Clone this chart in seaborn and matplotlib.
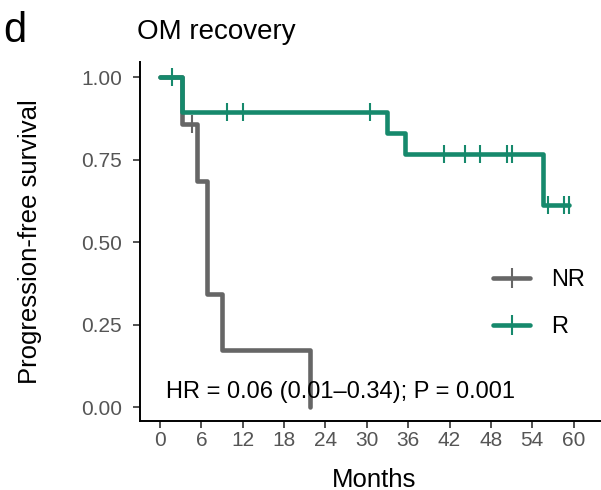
import numpy as np
import pandas as pd
import matplotlib
matplotlib.use("Agg")
import matplotlib.pyplot as plt
from matplotlib.lines import Line2D
import seaborn as sns

# ---- data ----
groups = ["NR", "R"]
nr_time = [3.2, 4.7, 5.4, 6.8, 6.8, 9.0, 21.8]
nr_event = [1, 0, 1, 1, 1, 1, 1]
r_time = [1.7, 3.2, 3.2, 9.7, 12.1, 30.5, 33.0, 35.5, 41.2, 44.2, 44.2,
          46.4, 46.4, 50.4, 51.0, 55.6, 56.3, 58.6, 59.4, 59.4]
r_event = [0, 1, 1, 0, 0, 0, 1, 1, 0, 0, 0, 0, 0, 0, 0, 1, 0, 0, 0, 0]
x_ticks = [0, 6, 12, 18, 24, 30, 36, 42, 48, 54, 60]
y_ticks = [0.0, 0.25, 0.5, 0.75, 1.0]
y_ticklabels = ["0.00", "0.25", "0.50", "0.75", "1.00"]
colors = {"NR": "#666666", "R": "#16896C"}
title = "OM recovery"
panel = "d"
annot = "HR = 0.06 (0.01\u20130.34); P = 0.001"


def km(times, events, name):
    t = np.array(times, float)
    e = np.array(events, int)
    s = 1.0
    steps = [(0.0, 1.0)]
    cens = []
    for ut in np.unique(t):
        at_risk = np.sum(t >= ut)
        d = np.sum((t == ut) & (e == 1))
        s *= (1 - d / at_risk)
        steps.append((ut, s))
        if np.any((t == ut) & (e == 0)):
            cens.append((ut, s))
    st = pd.DataFrame(steps, columns=["time", "surv"]); st["group"] = name
    cs = pd.DataFrame(cens, columns=["time", "surv"]); cs["group"] = name
    return st, cs


s1, c1 = km(nr_time, nr_event, "NR")
s2, c2 = km(r_time, r_event, "R")
steps = pd.concat([s1, s2], ignore_index=True)
cens = pd.concat([c1, c2], ignore_index=True)

sns.set_theme(style="ticks")
plt.rcParams["font.family"] = ["Liberation Sans", "DejaVu Sans"]
plt.rcParams["text.color"] = "black"

fig = plt.figure(figsize=(6.01, 4.90), dpi=100)
fig.patch.set_facecolor("white")
ax = fig.add_axes([0.233, 0.141, 0.765, 0.732])
ax.set_facecolor("white")

sns.lineplot(data=steps, x="time", y="surv", hue="group", hue_order=groups,
             palette=colors, drawstyle="steps-post", estimator=None,
             linewidth=3.3, legend=False, ax=ax)
sns.scatterplot(data=cens, x="time", y="surv", hue="group", hue_order=groups,
                palette=colors, marker="|", s=170, linewidth=1.5,
                legend=False, ax=ax, zorder=3)

ax.set_xlim(-2.9, 63.8)
ax.set_ylim(-0.042, 1.045)
ax.set_xticks(x_ticks)
ax.set_yticks(y_ticks)
ax.set_yticklabels(y_ticklabels)
ax.tick_params(axis="both", labelsize=15, labelcolor="#555555", direction="out",
               length=5, width=1.2, color="#333333", top=False, right=False)
ax.tick_params(axis="x", pad=2.5)
ax.tick_params(axis="y", pad=8)
for side in ["top", "right"]:
    ax.spines[side].set_visible(False)
for side in ["left", "bottom"]:
    ax.spines[side].set_linewidth(1.4)
    ax.spines[side].set_color("black")
ax.grid(False)

ax.set_xlabel("Months", fontsize=18.5, color="black")
ax.set_ylabel("Progression-free survival", fontsize=18.5, color="black")
ax.xaxis.label.set_va("baseline")
ax.yaxis.label.set_va("center")
ax.xaxis.set_label_coords(0.508, -0.183)
ax.yaxis.set_label_coords(-0.239, 0.5)

fig.text(137 / 601, 1 - 39.3 / 490, title, fontsize=20, ha="left", va="baseline",
         color="black")
fig.text(3 / 601, 1 - 42 / 490, panel, fontsize=30, ha="left", va="baseline",
         color="black")

fig.text(166 / 601, 1 - 398 / 490, annot, fontsize=17, ha="left", va="baseline",
         color="black")

handles = [Line2D([], [], color=colors[g], lw=3.3, marker="+", markersize=14,
                  markeredgewidth=1.5) for g in groups]
leg = ax.legend(handles, groups, loc="center left", bbox_to_anchor=(0.748, 0.3265),
                frameon=False, fontsize=17, handlelength=1.57, handletextpad=0.89,
                labelspacing=1.05, borderaxespad=0)
for t in leg.get_texts():
    t.set_color("black")

fig.savefig("out.png", dpi=100, facecolor="white")
